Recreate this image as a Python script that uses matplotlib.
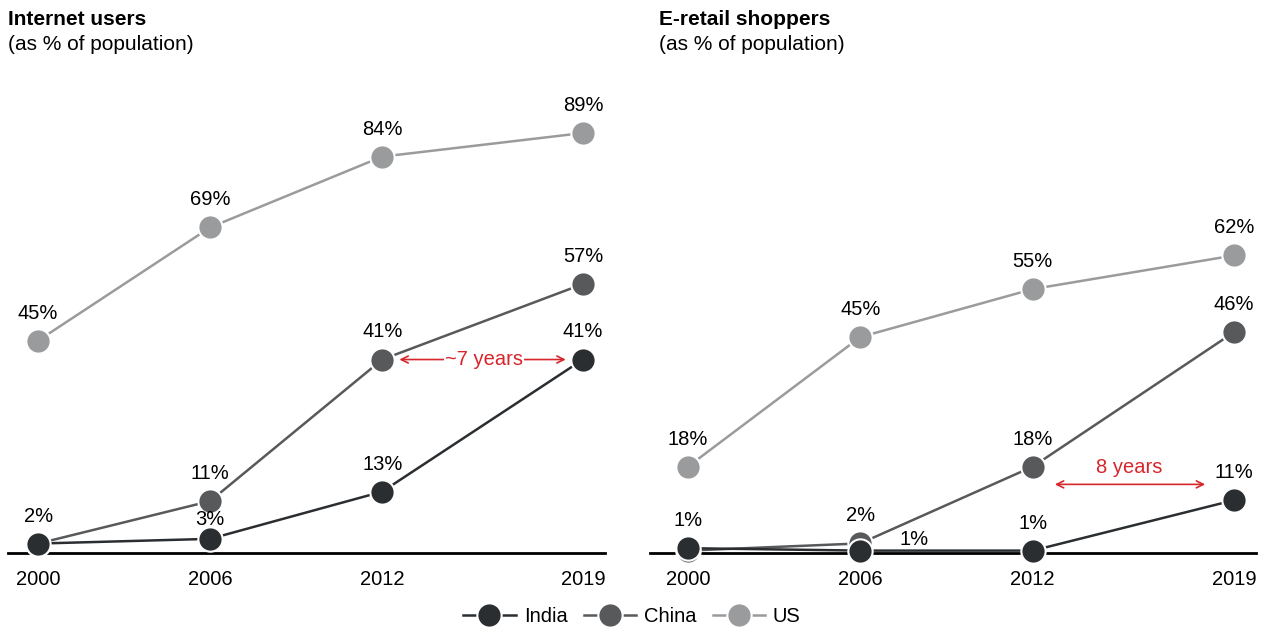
import matplotlib
matplotlib.use("Agg")
import matplotlib.pyplot as plt
from matplotlib.lines import Line2D

plt.rcParams["font.family"] = ["Liberation Sans", "DejaVu Sans"]

years = [2000, 2006, 2012, 2019]
series = ["India", "China", "US"]
colors = {"India": "#2b2e31", "China": "#58595b", "US": "#9a9b9d"}

internet = {"India": [2, 3, 13, 41], "China": [2, 11, 41, 57], "US": [45, 69, 84, 89]}
eretail = {"India": [1, 0.5, 0.5, 11], "China": [0.5, 2, 18, 46], "US": [18, 45, 55, 62]}
# labels shown (None = no label)
internet_labels = {"India": ["2%", "3%", "13%", "41%"], "China": [None, "11%", "41%", "57%"],
                   "US": ["45%", "69%", "84%", "89%"]}
eretail_labels = {"India": ["1%", "1%", "1%", "11%"], "China": [None, "2%", "18%", "46%"],
                  "US": ["18%", "45%", "55%", "62%"]}

RED = "#d7262b"
FS = 14.5
W, H = 1266, 630
fig = plt.figure(figsize=(W / 100, H / 100), dpi=100)

def px_axes(l, r, top, bot):
    return fig.add_axes([l / W, 1 - bot / H, (r - l) / W, (bot - top) / H])

axL = px_axes(8, 605, 100, 553)
axR = px_axes(650, 1256, 100, 553)
axL.set_xlim(1998.95, 2019.77)
axR.set_xlim(1998.68, 2019.77)

def draw(ax, data, labels, ytop, special=None):
    ax.set_ylim(0, ytop)
    for s in ["US", "China", "India"]:
        ax.plot(years, data[s], color=colors[s], lw=1.8, marker="o", ms=17.5,
                mfc=colors[s], mec="white", mew=1.5, clip_on=False, zorder=3)
        for i, (x, y) in enumerate(zip(years, data[s])):
            lab = labels[s][i]
            if lab is None:
                continue
            dx, dy = 0, 13
            if special and (s, i) in special:
                dx, dy = special[(s, i)]
            ax.annotate(lab, (x, y), xytext=(dx, dy), textcoords="offset points",
                        ha="center", va="bottom", fontsize=FS, color="black", zorder=4)
    for sp in ["top", "right", "left"]:
        ax.spines[sp].set_visible(False)
    ax.spines["bottom"].set_linewidth(2)
    ax.spines["bottom"].set_zorder(2)
    ax.set_yticks([])
    ax.set_xticks(years)
    ax.set_xticklabels([str(y) for y in years], fontsize=FS)
    ax.tick_params(axis="x", length=0, pad=12)
    ax.patch.set_alpha(0)

draw(axL, internet, internet_labels, 96, special={("India", 1): (0, 7)})
draw(axR, eretail, eretail_labels, 94.4, special={("India", 1): (39, 1)})

# annotations
arrow = dict(arrowstyle="<->,head_length=0.5,head_width=0.25", color=RED, lw=1.2,
             shrinkA=0, shrinkB=0)
axL.annotate("", xy=(2012.6, 41), xytext=(2018.4, 41), arrowprops=arrow)
axL.text(2015.55, 41, "~7 years", color=RED, fontsize=FS, ha="center", va="center",
         bbox=dict(fc="white", ec="none", pad=1.0))
axR.annotate("", xy=(2012.77, 14.3), xytext=(2018.0, 14.3), arrowprops=arrow)
axR.text(2015.35, 15.8, "8 years", color=RED, fontsize=FS, ha="center", va="bottom")

# titles
fig.text(8 / W, 1 - 10 / H, "Internet users", fontsize=15, fontweight="bold", va="top")
fig.text(8 / W, 1 - 35 / H, "(as % of population)", fontsize=15, va="top")
fig.text(659 / W, 1 - 10 / H, "E-retail shoppers", fontsize=15, fontweight="bold", va="top")
fig.text(659 / W, 1 - 35 / H, "(as % of population)", fontsize=15, va="top")

handles = [Line2D([0], [0], color=colors[s], lw=1.8, marker="o", ms=17.5,
                  mfc=colors[s], mec="white", mew=1.5) for s in series]
fig.legend(handles, series, loc="center", bbox_to_anchor=(632 / W, 1 - 617 / H),
           ncol=3, frameon=False, fontsize=FS, handlelength=2.6, columnspacing=0.8,
           handletextpad=0.4)

fig.savefig("out.png", dpi=100)
